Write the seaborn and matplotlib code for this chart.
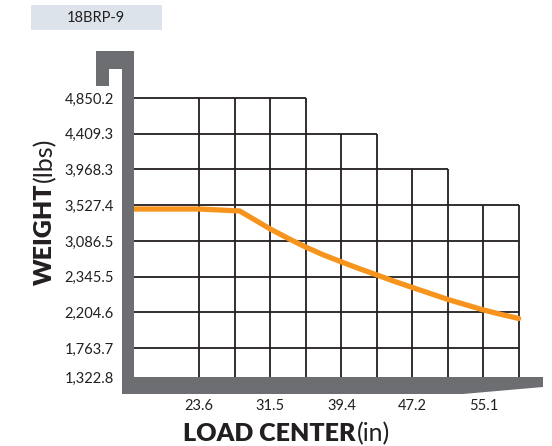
import matplotlib
matplotlib.use("Agg")
from matplotlib import pyplot as plt
from matplotlib.patches import Polygon, Rectangle
from matplotlib.transforms import Affine2D
import numpy as np
import pandas as pd
import seaborn as sns

model_name = "18BRP-9"

# y axis ticks, bottom to top (labels as printed on the chart)
weight_ticks = [1322.8, 1763.7, 2204.6, 2345.5, 3086.5, 3527.4, 3968.3, 4409.3, 4850.2]
weight_labels = ["1,322.8", "1,763.7", "2,204.6", "2,345.5", "3,086.5",
                 "3,527.4", "3,968.3", "4,409.3", "4,850.2"]

# x axis ticks (load center, in)
center_ticks = [23.6, 31.5, 39.4, 47.2, 55.1]
center_labels = ["23.6", "31.5", "39.4", "47.2", "55.1"]

# how many grid columns each row reaches, bottom row first
row_cols = [9, 9, 9, 9, 9, 7, 5, 3]

# capacity curve
load_center = [16.4, 23.6, 28.1, 31.5, 33.5, 35.4, 37.4, 39.4, 41.3, 43.3,
               45.3, 47.2, 49.2, 51.2, 53.2, 55.1, 57.1, 59.0]
capacity = [3480, 3480, 3456, 3233, 3116, 2960, 2794, 2649, 2514, 2380,
            2326, 2303, 2279, 2255, 2234, 2214, 2178, 2129]

W, H, DPI = 552, 446, 100
INK = "#231f20"
GRAY = "#6d6e71"
ORANGE = "#f7941d"

sns.set_style("white")
plt.rcParams['font.family'] = ['Lato', 'DejaVu Sans']

fig = plt.figure(figsize=(W / DPI, H / DPI), dpi=DPI)
px = Affine2D().scale(1 / DPI, -1 / DPI).translate(0, H / DPI) + fig.dpi_scale_trans

ax = fig.add_axes([134 / W, 1 - 377 / H, 385 / W, 279 / H])

# the chart's rows are evenly spaced, except the short bottom row
tick_pos = [0.19] + list(range(1, len(weight_ticks)))
fwd = lambda w: np.interp(w, weight_ticks, tick_pos)
inv = lambda p: np.interp(p, tick_pos, weight_ticks)
ax.set_yscale('function', functions=(fwd, inv))

step = (center_ticks[-1] - center_ticks[0]) / 8
col_x = [center_ticks[0] + k * step for k in range(10)]
ax.set_xlim(load_center[0], col_x[-1])
ax.set_ylim(weight_ticks[0], weight_ticks[-1])

# stepped grid
for i in range(1, len(weight_ticks)):
    above = row_cols[i] if i < len(row_cols) else 0
    right = col_x[max(row_cols[i - 1], above)]
    ax.hlines(weight_ticks[i], load_center[0], right, color=INK, lw=1.3, zorder=1, clip_on=False)
for k, x in enumerate(col_x):
    top_row = max(r for r, c in enumerate(row_cols) if c >= k)
    ax.vlines(x, weight_ticks[0], weight_ticks[top_row + 1], color=INK, lw=1.3, zorder=1, clip_on=False)

df = pd.DataFrame({"load_center": load_center, "capacity": capacity})
sns.lineplot(data=df, x="load_center", y="capacity", ax=ax, color=ORANGE, lw=3.8,
             solid_capstyle='round', solid_joinstyle='round', zorder=3, clip_on=False)

ax.set_yticks(weight_ticks, weight_labels)
ax.set_xticks(center_ticks, center_labels)
ax.minorticks_off()
ax.tick_params(axis='y', length=0, pad=14.5, labelsize=10.5, labelcolor=INK)
ax.tick_params(axis='x', length=0, pad=16, labelsize=10.5, labelcolor=INK)
ax.set_xlabel("")
ax.set_ylabel("")
for s in ax.spines.values():
    s.set_visible(False)

# gray frame with hook
frame = [(96, 51), (134, 51), (134, 377), (543, 377), (543, 387), (463, 394),
         (122, 394), (122, 69), (109, 69), (109, 86), (96, 86)]
fig.add_artist(Polygon(frame, closed=True, transform=px, facecolor=GRAY, edgecolor='none', zorder=5))

# model tag
fig.add_artist(Rectangle((31, 5), 131, 25, transform=px, facecolor="#dde3ea", edgecolor='none'))
fig.text(96, 18, model_name, transform=px, ha='center', va='center', fontsize=10.5, color=INK)

# axis titles: bold part + plain unit
t1 = fig.text(183, 441, "LOAD CENTER", transform=px, ha='left', va='baseline',
              fontsize=18, fontweight='heavy', color=INK)
ax.annotate("(in)", xy=(1, 441), xycoords=(t1, px), xytext=(1, 0), textcoords='offset points',
            ha='left', va='baseline', fontsize=18, fontweight='normal', color=INK,
            annotation_clip=False)

t2 = fig.text(52, 285, "WEIGHT", transform=px, rotation=90, rotation_mode='anchor',
              ha='left', va='baseline', fontsize=18, fontweight='heavy', color=INK)
ax.annotate("(lbs)", xy=(52, 1), xycoords=(px, t2), xytext=(0, 1), textcoords='offset points',
            rotation=90, rotation_mode='anchor', ha='left', va='baseline',
            fontsize=18, fontweight='normal', color=INK, annotation_clip=False)

fig.savefig("out.png", dpi=DPI)
